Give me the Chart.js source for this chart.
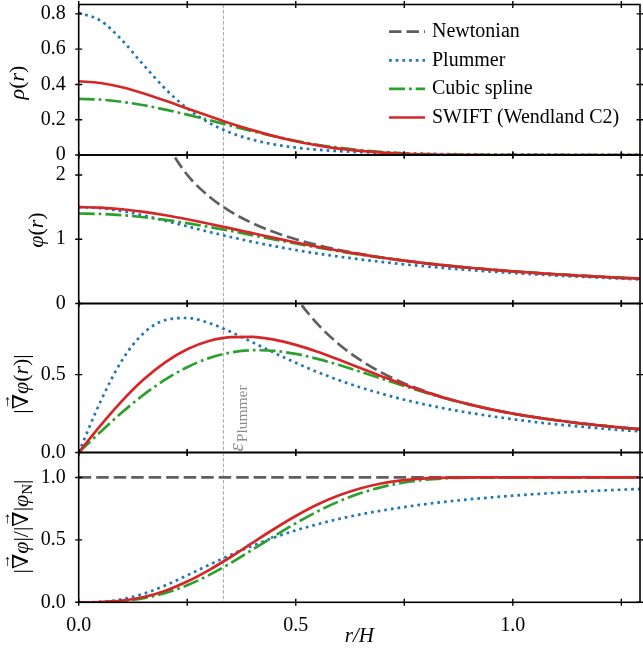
<!DOCTYPE html>
<html>
<head>
<meta charset="utf-8">
<script src="https://cdn.jsdelivr.net/npm/chart.js@4.4.1/dist/chart.umd.min.js"></script>
<style>
  html, body { margin: 0; padding: 0; background: #ffffff; }
  #wrap { position: relative; width: 643px; height: 652px; overflow: hidden; background: #ffffff; }
  #wrap canvas { position: absolute; left: 0; }
</style>
</head>
<body>
<div id="wrap">
  <canvas id="c1" width="643" height="170" style="top:0px"></canvas>
  <canvas id="c2" width="643" height="177" style="top:141px"></canvas>
  <canvas id="c3" width="643" height="177" style="top:290px"></canvas>
  <canvas id="c4" width="643" height="213" style="top:439px"></canvas>
</div>
<script>
// ---------------- data ----------------
const R = [0, 0.05, 0.1, 0.15, 0.2, 0.25, 0.3, 0.35, 0.4, 0.45, 0.5, 0.55, 0.6, 0.65, 0.7,
           0.75, 0.8, 0.85, 0.9, 0.95, 1.0, 1.05, 1.1, 1.15, 1.2, 1.25, 1.3];

const SERIES_NAMES = ['Newtonian', 'Plummer', 'Cubic spline', 'SWIFT (Wendland C2)'];
const EPS_PLUMMER = 1 / 3;

// density rho(r)
const RHO_PLUMMER = [0.806, 0.762, 0.650, 0.508, 0.374, 0.264, 0.183, 0.126, 0.087, 0.060, 0.042, 0.030, 0.022, 0.016, 0.012,
                     0.009, 0.007, 0.005, 0.004, 0.003, 0.0025, 0.002, 0.0017, 0.0013, 0.0011, 0.0009, 0.0008];
const RHO_CUBIC   = [0.318, 0.314, 0.301, 0.282, 0.257, 0.229, 0.198, 0.166, 0.135, 0.106, 0.080, 0.058, 0.041, 0.027, 0.017,
                     0.010, 0.005, 0.002, 0.0006, 0.0001, 0, 0, 0, 0, 0, 0, 0];
const RHO_SWIFT   = [0.418, 0.408, 0.384, 0.349, 0.308, 0.264, 0.221, 0.179, 0.141, 0.107, 0.078, 0.055, 0.036, 0.023, 0.013,
                     0.0065, 0.0028, 0.0009, 0.0002, 0, 0, 0, 0, 0, 0, 0, 0];

// potential phi(r)
const PHI_NEWTON  = [null, null, null, null, 2.5, 2.0, 1.667, 1.429, 1.25, 1.111, 1.0, 0.909, 0.833, 0.769, 0.714,
                     0.667, 0.625, 0.588, 0.556, 0.526, 0.5, 0.476, 0.455, 0.435, 0.417, 0.4, 0.385];
const PHI_PLUMMER = [1.5, 1.483, 1.437, 1.368, 1.286, 1.2, 1.115, 1.035, 0.960, 0.893, 0.832, 0.777, 0.729, 0.685, 0.645,
                     0.609, 0.577, 0.548, 0.521, 0.497, 0.474, 0.454, 0.435, 0.418, 0.402, 0.387, 0.373];
const PHI_CUBIC   = [1.4, 1.393, 1.374, 1.342, 1.3, 1.249, 1.191, 1.129, 1.063, 0.998, 0.933, 0.872, 0.813, 0.759, 0.710,
                     0.665, 0.624, 0.588, 0.556, 0.526, 0.5, 0.476, 0.455, 0.435, 0.417, 0.4, 0.385];
const PHI_SWIFT   = [1.5, 1.491, 1.466, 1.426, 1.373, 1.310, 1.241, 1.168, 1.094, 1.020, 0.949, 0.882, 0.820, 0.763, 0.712,
                     0.666, 0.625, 0.588, 0.556, 0.526, 0.5, 0.476, 0.455, 0.435, 0.417, 0.4, 0.385];

// force |grad phi(r)|
const GRAD_NEWTON  = [null, null, null, null, null, null, null, null, null, 1.235, 1.0, 0.826, 0.694, 0.592, 0.510,
                      0.444, 0.391, 0.346, 0.309, 0.277, 0.25, 0.227, 0.207, 0.189, 0.174, 0.16, 0.148];
const GRAD_PLUMMER = [0, 0.326, 0.593, 0.768, 0.851, 0.864, 0.832, 0.775, 0.708, 0.641, 0.576, 0.517, 0.464, 0.417, 0.376,
                      0.339, 0.307, 0.279, 0.255, 0.233, 0.214, 0.196, 0.181, 0.168, 0.155, 0.144, 0.135];
const GRAD_CUBIC   = [0, 0.132, 0.258, 0.372, 0.469, 0.548, 0.606, 0.642, 0.657, 0.653, 0.633, 0.601, 0.562, 0.518, 0.472,
                      0.427, 0.384, 0.344, 0.308, 0.277, 0.25, 0.227, 0.207, 0.189, 0.174, 0.16, 0.148];
const GRAD_SWIFT   = [0, 0.173, 0.332, 0.470, 0.581, 0.663, 0.716, 0.741, 0.743, 0.725, 0.691, 0.647, 0.595, 0.541, 0.487,
                      0.435, 0.388, 0.345, 0.309, 0.277, 0.25, 0.227, 0.207, 0.189, 0.174, 0.16, 0.148];

// ratio to Newtonian force
const RATIO_NEWTON  = [1, 1, 1, 1, 1, 1, 1, 1, 1, 1, 1, 1, 1, 1, 1, 1, 1, 1, 1, 1, 1, 1, 1, 1, 1, 1, 1];
const RATIO_PLUMMER = [0, 0.003, 0.024, 0.069, 0.136, 0.216, 0.299, 0.380, 0.453, 0.519, 0.576, 0.625, 0.668, 0.705, 0.736,
                       0.763, 0.787, 0.807, 0.825, 0.840, 0.854, 0.866, 0.877, 0.886, 0.895, 0.902, 0.909];
const RATIO_CUBIC   = [0, 0.001, 0.010, 0.033, 0.075, 0.137, 0.218, 0.314, 0.421, 0.529, 0.633, 0.728, 0.809, 0.875, 0.925,
                       0.960, 0.982, 0.994, 0.999, 1, 1, 1, 1, 1, 1, 1, 1];
const RATIO_SWIFT   = [0, 0.002, 0.013, 0.042, 0.093, 0.166, 0.258, 0.363, 0.476, 0.587, 0.691, 0.783, 0.857, 0.914, 0.954,
                       0.978, 0.992, 0.998, 1.0, 1, 1, 1, 1, 1, 1, 1, 1];

// axis ranges / ticks
const X_RANGE = [0, 1.293];
const X_STEP = 0.25;
const Y_RANGES = { c1: [0, 0.853], c2: [0, 2.31], c3: [0, 0.957], c4: [0, 1.2] };
const Y_STEPS  = { c1: 0.2, c2: 1, c3: 0.5, c4: 0.5 };

// ---------------- styles ----------------
const SERIF = '"Liberation Serif", "DejaVu Serif", serif';
const STYLES = [
  { color: '#5f5f5f', dash: [12.5, 5], order: 4 },
  { color: '#1f77b4', dash: [2.7, 4], order: 3 },
  { color: '#2ca02c', dash: [16, 4, 2.7, 4], order: 2 },
  { color: '#d62728', dash: [], order: 1 }
];
const LINE_W = 2.7;
const F_I = 'italic 22px ' + SERIF;
const F_N = '22px ' + SERIF;
const F_S = '15px ' + SERIF;

const PANEL_EXTRA = {
  c1: { top: 0,   labelY: 82.5,  baseX: 24, legend: true,
        label: [['ρ', F_I], ['(', F_N], ['r', F_I], [')', F_N]] },
  c2: { top: 141, labelY: 230,   baseX: 43,
        label: [['φ', F_I], ['(', F_N], ['r', F_I], [')', F_N]] },
  c3: { top: 290, labelY: 384,   baseX: 28, eps: true,
        label: [['|', F_N], ['∇', F_N, 0, true], ['φ', F_I], ['(', F_N], ['r', F_I], [')', F_N], ['|', F_N]] },
  c4: { top: 439, labelY: 526.5, baseX: 28,
        label: [['|', F_N], ['∇', F_N, 0, true], ['φ', F_I], ['|', F_N], ['/', F_N], ['|', F_N], ['∇', F_N, 0, true],
                ['|', F_N], ['φ', F_I], ['N', F_S, 4], ['|', F_N]] }
};

function drawMath(ctx, segs, cy, baseX, color) {
  ctx.save();
  ctx.translate(baseX, cy);
  ctx.rotate(-Math.PI / 2);
  ctx.fillStyle = color;
  ctx.textBaseline = 'alphabetic';
  ctx.textAlign = 'left';
  const widths = segs.map(s => { ctx.font = s[1]; return ctx.measureText(s[0]).width; });
  const total = widths.reduce((a, b) => a + b, 0);
  let x = -total / 2;
  segs.forEach((s, i) => {
    ctx.font = s[1];
    ctx.fillText(s[0], x, s[2] || 0);
    if (s[3]) {
      ctx.font = '15px ' + SERIF;
      const aw = ctx.measureText('→').width;
      ctx.fillText('→', x + (widths[i] - aw) / 2, -18);
    }
    x += widths[i];
  });
  ctx.restore();
}

const panelPlugin = {
  id: 'panelDeco',
  beforeDatasetsDraw(chart) {
    const { ctx, chartArea: a } = chart;
    const px = chart.scales.x.getPixelForValue(EPS_PLUMMER);
    ctx.save();
    ctx.strokeStyle = '#a6a6a6';
    ctx.lineWidth = 1;
    ctx.setLineDash([3.7, 1.8]);
    ctx.beginPath();
    ctx.moveTo(px, a.top);
    ctx.lineTo(px, a.bottom);
    ctx.stroke();
    ctx.restore();
  },
  afterDraw(chart) {
    const { ctx, chartArea: a } = chart;
    const xs = chart.scales.x, ys = chart.scales.y;
    const extra = PANEL_EXTRA[chart.canvas.id];
    ctx.save();
    // frame
    ctx.strokeStyle = '#000';
    ctx.lineWidth = 1.6;
    ctx.setLineDash([]);
    ctx.strokeRect(a.left, a.top, a.right - a.left, a.bottom - a.top);
    // ticks (in-out)
    ctx.lineWidth = 1.4;
    ctx.beginPath();
    xs.ticks.forEach(t => {
      const p = xs.getPixelForValue(t.value);
      ctx.moveTo(p, a.top - 3.5); ctx.lineTo(p, a.top + 3.5);
      ctx.moveTo(p, a.bottom - 3.5); ctx.lineTo(p, a.bottom + 3.5);
    });
    ys.ticks.forEach(t => {
      const p = ys.getPixelForValue(t.value);
      ctx.moveTo(a.left - 3.5, p); ctx.lineTo(a.left + 3.5, p);
      ctx.moveTo(a.right - 3.5, p); ctx.lineTo(a.right + 3.5, p);
    });
    ctx.stroke();
    // y-axis label
    drawMath(ctx, extra.label, extra.labelY - extra.top, extra.baseX, '#000');
    // epsilon label
    if (extra.eps) {
      const px = xs.getPixelForValue(EPS_PLUMMER);
      ctx.save();
      ctx.translate(px + 20, a.bottom - 1);
      ctx.rotate(-Math.PI / 2);
      ctx.fillStyle = '#8c8c8c';
      ctx.textBaseline = 'alphabetic';
      ctx.font = 'italic 21px ' + SERIF;
      ctx.fillText('ε', 0, 0);
      const w = ctx.measureText('ε').width;
      ctx.font = '15.5px ' + SERIF;
      ctx.fillText('Plummer', w + 1, 4);
      ctx.restore();
    }
    // legend
    if (extra.legend) {
      chart.data.datasets.forEach((d, i) => {
        const y = 31.7 + i * 28.6;
        ctx.strokeStyle = d.borderColor;
        ctx.lineWidth = d.borderWidth;
        ctx.setLineDash(d.borderDash || []);
        ctx.beginPath();
        ctx.moveTo(389, y); ctx.lineTo(425, y);
        ctx.stroke();
        ctx.setLineDash([]);
        ctx.fillStyle = '#000';
        ctx.font = '20px ' + SERIF;
        ctx.textBaseline = 'middle';
        ctx.fillText(d.label, 432, y);
      });
    }
    ctx.restore();
  }
};

function ds(idx, arr) {
  const st = STYLES[idx];
  const pts = arr ? R.map((r, i) => ({ x: r, y: arr[i] })).filter(p => p.y !== null) : [];
  return {
    label: SERIES_NAMES[idx], data: pts,
    borderColor: st.color, backgroundColor: st.color, borderDash: st.dash,
    borderWidth: LINE_W, order: st.order, pointRadius: 0, fill: false,
    cubicInterpolationMode: 'monotone', borderCapStyle: 'butt', borderJoinStyle: 'round'
  };
}

function yTickFmt(id) {
  return function (v) {
    if (id === 'c1') return Math.abs(v) < 1e-9 ? '0' : v.toFixed(1);
    if (id === 'c2') return String(Math.round(v));
    return v.toFixed(1);
  };
}

function makeChart(id, datasets, padding, showX) {
  const xScale = {
    type: 'linear', min: X_RANGE[0], max: X_RANGE[1], display: !!showX,
    grid: { display: false, drawTicks: false }, border: { display: false },
    ticks: {
      stepSize: X_STEP, includeBounds: false, autoSkip: false, maxRotation: 0, minRotation: 0,
      color: '#000', padding: 11, font: { family: SERIF, size: 20 },
      callback: v => (Math.abs(v * 2 - Math.round(v * 2)) < 1e-6 ? v.toFixed(1) : '')
    },
    title: { display: true, text: 'r/H', color: '#000', font: { family: SERIF, size: 21, style: 'italic' }, padding: { top: 0, bottom: 3 } },
    afterFit: s => {
      s.paddingLeft = 0; s.paddingRight = 0; s.paddingTop = 0; s.paddingBottom = 0;
      if (showX) s.height = 49.7;
    }
  };
  return new Chart(document.getElementById(id), {
    type: 'line',
    data: { datasets },
    plugins: [panelPlugin],
    options: {
      responsive: false, animation: false, devicePixelRatio: 1, events: [],
      layout: { padding },
      plugins: { legend: { display: false }, tooltip: { enabled: false } },
      scales: {
        x: xScale,
        y: {
          type: 'linear', min: Y_RANGES[id][0], max: Y_RANGES[id][1],
          grid: { display: false, drawTicks: false }, border: { display: false },
          ticks: { stepSize: Y_STEPS[id], includeBounds: false, color: '#000', padding: 13,
                   font: { family: SERIF, size: 20 }, callback: yTickFmt(id) },
          afterFit: s => { s.width = 78.7; s.paddingTop = 0; s.paddingBottom = 0; s.paddingLeft = 0; s.paddingRight = 0; }
        }
      }
    }
  });
}

makeChart('c1', [ds(0, null), ds(1, RHO_PLUMMER), ds(2, RHO_CUBIC), ds(3, RHO_SWIFT)],
          { top: 4.5, bottom: 15, left: 0, right: 3 }, false);
makeChart('c2', [ds(0, PHI_NEWTON), ds(1, PHI_PLUMMER), ds(2, PHI_CUBIC), ds(3, PHI_SWIFT)],
          { top: 14, bottom: 14.5, left: 0, right: 3 }, false);
makeChart('c3', [ds(0, GRAD_NEWTON), ds(1, GRAD_PLUMMER), ds(2, GRAD_CUBIC), ds(3, GRAD_SWIFT)],
          { top: 13.5, bottom: 14.5, left: 0, right: 3 }, false);
makeChart('c4', [ds(0, RATIO_NEWTON), ds(1, RATIO_PLUMMER), ds(2, RATIO_CUBIC), ds(3, RATIO_SWIFT)],
          { top: 13.5, bottom: 0, left: 0, right: 3 }, true);
</script>
</body>
</html>
